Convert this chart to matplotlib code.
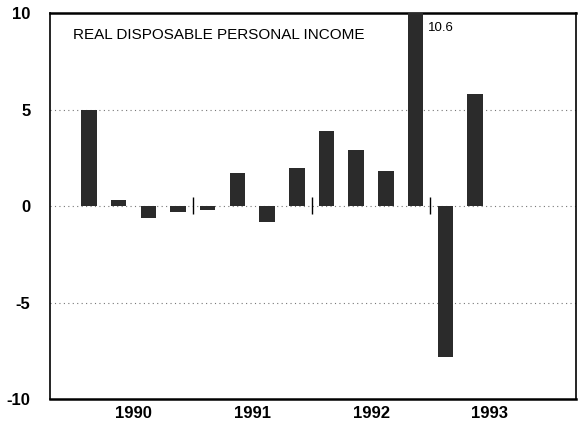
import numpy as np
import matplotlib
matplotlib.use("Agg")
import matplotlib.pyplot as plt

plt.rcParams['font.family'] = ['Liberation Sans', 'DejaVu Sans']

# quarterly % change, annual rate, 1990Q1 .. 1993Q2
quarters = ["1990Q1", "1990Q2", "1990Q3", "1990Q4",
            "1991Q1", "1991Q2", "1991Q3", "1991Q4",
            "1992Q1", "1992Q2", "1992Q3", "1992Q4",
            "1993Q1", "1993Q2"]
values = [5.0, 0.3, -0.6, -0.3, -0.2, 1.7, -0.8, 2.0, 3.9, 2.9, 1.8, 10.6, -7.8, 5.8]
years = ["1990", "1991", "1992", "1993"]

x = np.arange(len(quarters))

fig = plt.figure(figsize=(5.78, 4.25), dpi=100)
ax = fig.add_axes([0.0865, 0.061, 0.91, 0.908])

ax.bar(x, values, width=0.52, color="#2b2b2b", zorder=3)

for y in (5, 0, -5):
    ax.axhline(y, color="#777", ls=(0, (1, 3)), lw=0.8, zorder=1)

# small year-boundary marks on the zero line
for b in (3.5, 7.5, 11.5):
    ax.vlines(b, -0.4, 0.45, color="black", lw=1.0, zorder=4)

ax.set_xlim(-1.31, 16.4)
ax.set_ylim(-10, 10)
ax.set_yticks([10, 5, 0, -5, -10])
ax.set_yticklabels(["10", "5", "0", "-5", "-10"], fontsize=12, fontweight="bold")
ax.set_xticks([1.5, 5.5, 9.5, 13.5])
ax.set_xticklabels(years, fontsize=12, fontweight="bold")
ax.tick_params(length=0, axis="y", pad=14)
ax.tick_params(length=0, axis="x", pad=5)

for s in ax.spines.values():
    s.set_linewidth(1.2)
ax.spines["top"].set_linewidth(1.8)
ax.spines["bottom"].set_linewidth(1.8)

ax.text(0.043, 0.962, "REAL DISPOSABLE PERSONAL INCOME", transform=ax.transAxes,
        fontsize=11, va="top", ha="left")
ax.text(11.4, 9.55, "10.6", fontsize=9.5, va="top", ha="left")

fig.savefig("out.png", dpi=100)
